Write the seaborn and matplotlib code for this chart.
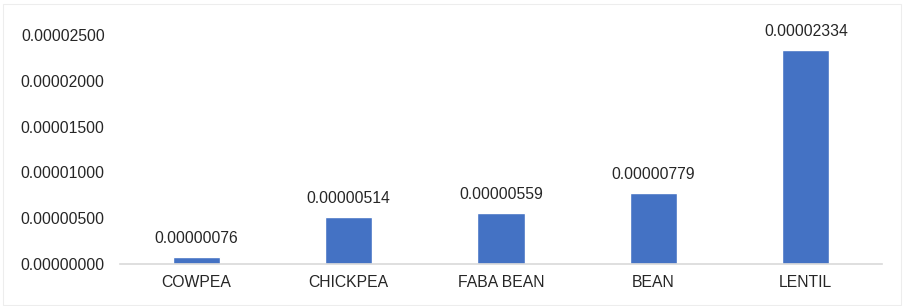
import matplotlib
matplotlib.use("Agg")
import matplotlib.pyplot as plt
import matplotlib.ticker as mticker
import seaborn as sns
import pandas as pd

# Данные
crops = ["COWPEA", "CHICKPEA", "FABA BEAN", "BEAN", "LENTIL"]
values = [0.00000076, 0.00000514, 0.00000559, 0.00000779, 0.00002334]
value_labels = ["0.00000076", "0.00000514", "0.00000559", "0.00000779", "0.00002334"]

df = pd.DataFrame({"crop": crops, "value": values})

sns.set_theme(style="white")
plt.rcParams["font.family"] = ["Liberation Sans", "DejaVu Sans"]

fig = plt.figure(figsize=(9.04, 3.06), dpi=100)
ax = fig.add_axes([0.1327, 0.137, 0.8430, 0.749])

sns.barplot(data=df, x="crop", y="value", color="#4472C4", width=0.31,
            saturation=1, ax=ax)

# Подписи значений над столбцами
for i, (v, lab) in enumerate(zip(values, value_labels)):
    ax.text(i, v + 0.0000012, lab, ha="center", va="bottom",
            fontsize=11.3, color="#262626", clip_on=False)

ax.set_ylim(0, 0.000025)
ax.set_xlim(-0.5, 4.5)
ax.yaxis.set_major_locator(mticker.MultipleLocator(0.000005))
ax.yaxis.set_major_formatter(mticker.FuncFormatter(lambda v, p: f"{v:.8f}"))
ax.set_xlabel("")
ax.set_ylabel("")
ax.tick_params(axis="both", length=0, labelsize=11.3, colors="#262626")
ax.tick_params(axis="y", pad=11)
ax.tick_params(axis="x", pad=8)

for s in ["top", "right", "left"]:
    ax.spines[s].set_visible(False)
ax.spines["bottom"].set_color("#D9D9D9")
ax.spines["bottom"].set_linewidth(1.2)

# Рамка области диаграммы
fig.patches.append(plt.Rectangle((0.003, 0.003), 0.994, 0.985, transform=fig.transFigure,
                                 fill=False, edgecolor="#EDEDED", linewidth=0.8))

plt.savefig("out.png", dpi=100)
